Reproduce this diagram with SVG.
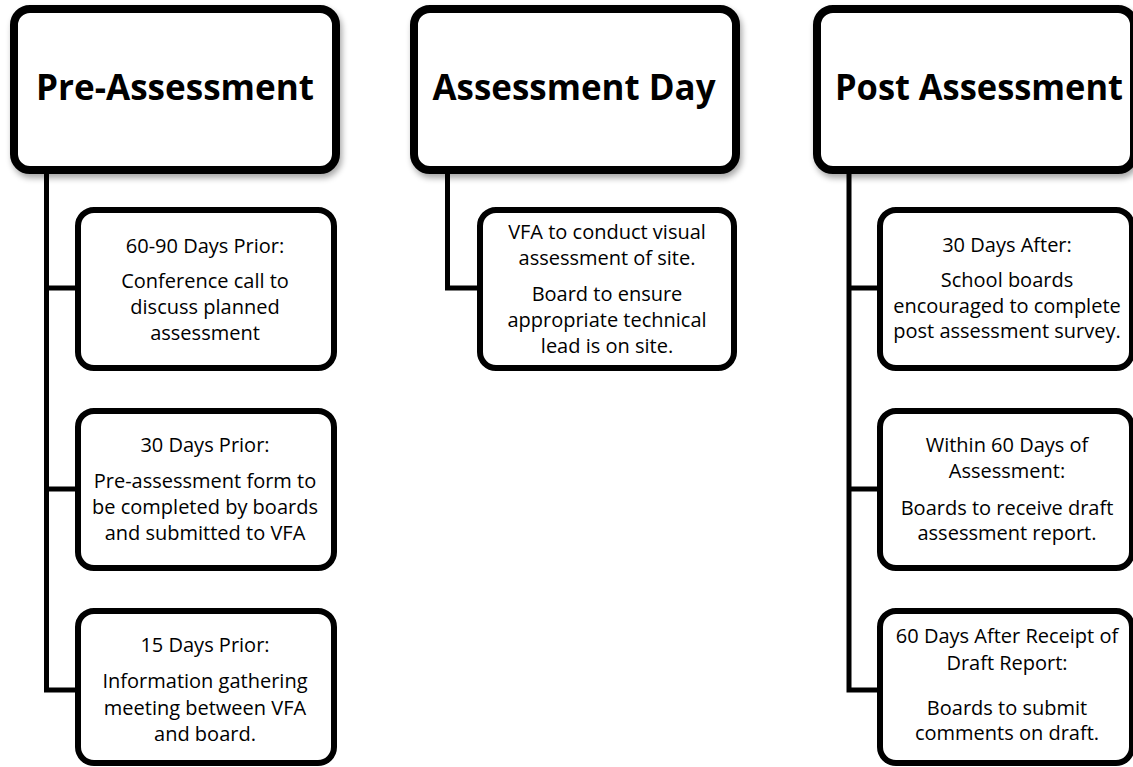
<svg xmlns="http://www.w3.org/2000/svg" width="1133" height="767" viewBox="0 0 1133 767">
<defs>
<filter id="sh" x="-10%" y="-10%" width="125%" height="130%">
<feGaussianBlur in="SourceAlpha" stdDeviation="3"/>
<feOffset dx="2" dy="4" result="b"/>
<feComponentTransfer><feFuncA type="linear" slope="0.35"/></feComponentTransfer>
<feMerge><feMergeNode/><feMergeNode in="SourceGraphic"/></feMerge>
</filter>
</defs>
<style>
.hdr{fill:#fff;stroke:#000;stroke-width:8;filter:url(#sh)}
.box{fill:#fff;stroke:#000;stroke-width:6}
.ht{font-family:"Open Sans","Liberation Sans",sans-serif;font-weight:bold;font-size:35px;fill:#000;text-anchor:middle}
.t{font-family:"Open Sans","Liberation Sans",sans-serif;font-size:20px;fill:#000;text-anchor:middle}
.c{fill:none;stroke:#000;stroke-width:5;stroke-linejoin:miter}
</style>
<rect width="1133" height="767" fill="#fff"/>
<g id="connectors">
<path class="c" d="M46.5,170 V690 H78 M46.5,288 H78 M46.5,489 H78"/>
<path class="c" d="M447.5,170 V288 H480"/>
<path class="c" d="M849,170 V690 H880 M849,288 H880 M849,489 H880"/>
</g>
<g id="pre-assessment">
<rect class="hdr" x="14" y="9" width="322" height="161" rx="16"/>
<text class="ht" x="175" y="100" textLength="278" lengthAdjust="spacingAndGlyphs">Pre-Assessment</text>
</g>
<g id="assessment-day">
<rect class="hdr" x="414" y="9" width="322" height="161" rx="16"/>
<text class="ht" x="574" y="100" textLength="283" lengthAdjust="spacingAndGlyphs">Assessment Day</text>
</g>
<g id="post-assessment">
<rect class="hdr" x="817" y="9" width="317" height="161" rx="16"/>
<text class="ht" x="979" y="100" textLength="288" lengthAdjust="spacingAndGlyphs">Post Assessment</text>
</g>
<g id="pre-60-90">
<rect class="box" x="78" y="210" width="256" height="158" rx="16"/>
<text class="t" x="205" y="253">60-90 Days Prior:</text>
<text class="t" x="205" y="288">Conference call to</text>
<text class="t" x="205" y="314">discuss planned</text>
<text class="t" x="205" y="340">assessment</text>
</g>
<g id="pre-30">
<rect class="box" x="78" y="411" width="256" height="157" rx="16"/>
<text class="t" x="205" y="452">30 Days Prior:</text>
<text class="t" x="205" y="488">Pre-assessment form to</text>
<text class="t" x="205" y="514">be completed by boards</text>
<text class="t" x="205" y="540">and submitted to VFA</text>
</g>
<g id="pre-15">
<rect class="box" x="78" y="611" width="256" height="152" rx="16"/>
<text class="t" x="205" y="652">15 Days Prior:</text>
<text class="t" x="205" y="688">Information gathering</text>
<text class="t" x="205" y="715">meeting between VFA</text>
<text class="t" x="205" y="741">and board.</text>
</g>
<g id="day-visual">
<rect class="box" x="480" y="210" width="254" height="158" rx="16"/>
<text class="t" x="607" y="239">VFA to conduct visual</text>
<text class="t" x="607" y="265">assessment of site.</text>
<text class="t" x="607" y="301">Board to ensure</text>
<text class="t" x="607" y="327">appropriate technical</text>
<text class="t" x="607" y="353">lead is on site.</text>
</g>
<g id="post-30">
<rect class="box" x="880" y="210" width="252" height="158" rx="16"/>
<text class="t" x="1007" y="252">30 Days After:</text>
<text class="t" x="1007" y="287">School boards</text>
<text class="t" x="1007" y="313">encouraged to complete</text>
<text class="t" x="1007" y="338">post assessment survey.</text>
</g>
<g id="post-60">
<rect class="box" x="880" y="411" width="252" height="157" rx="16"/>
<text class="t" x="1007" y="452">Within 60 Days of</text>
<text class="t" x="1007" y="478">Assessment:</text>
<text class="t" x="1007" y="515">Boards to receive draft</text>
<text class="t" x="1007" y="540">assessment report.</text>
</g>
<g id="post-comments">
<rect class="box" x="880" y="611" width="252" height="152" rx="16"/>
<text class="t" x="1007" y="643">60 Days After Receipt of</text>
<text class="t" x="1007" y="670">Draft Report:</text>
<text class="t" x="1007" y="715">Boards to submit</text>
<text class="t" x="1007" y="740">comments on draft.</text>
</g>
</svg>
